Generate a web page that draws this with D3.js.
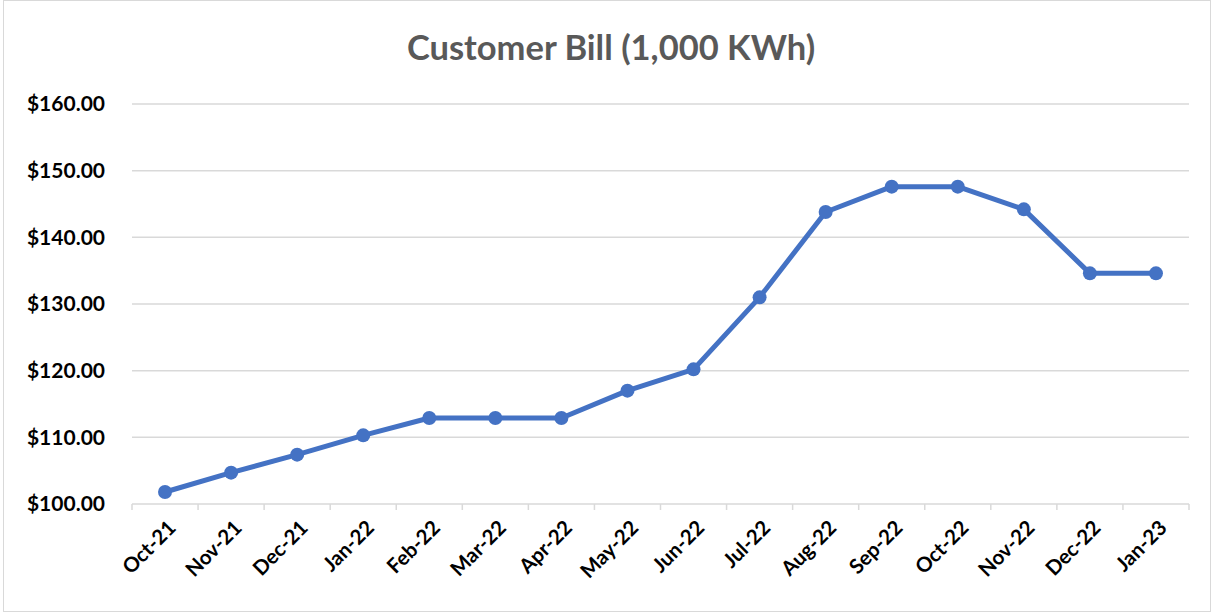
<!DOCTYPE html>
<html>
<head>
<meta charset="utf-8">
<script src="https://cdn.jsdelivr.net/npm/d3@7"></script>
<style>
  body { margin: 0; background: #fff; }
  svg, svg text { font-family: Lato, "Open Sans", sans-serif; }
</style>
</head>
<body>
<div id="chart"></div>
<script>
var months = ["Oct-21", "Nov-21", "Dec-21", "Jan-22", "Feb-22", "Mar-22", "Apr-22", "May-22",
              "Jun-22", "Jul-22", "Aug-22", "Sep-22", "Oct-22", "Nov-22", "Dec-22", "Jan-23"];
var bills = [101.8, 104.7, 107.4, 110.3, 112.9, 112.9, 112.9, 117.0,
             120.2, 131.0, 143.8, 147.6, 147.6, 144.2, 134.6, 134.6];
var yTicks = [100, 110, 120, 130, 140, 150, 160];

var width = 1214,
    height = 613;
var margin = {top: 104, right: 25, bottom: 109, left: 132};

var svg = d3.select("#chart")
    .append("svg")
    .attr("width", width)
    .attr("height", height);

// chart border
svg.append("rect")
    .attr("x", 3.5).attr("y", 0.5)
    .attr("width", width - 7).attr("height", height - 2)
    .attr("fill", "#fff")
    .attr("stroke", "#d9d9d9");

var x = d3.scaleBand()
    .domain(months)
    .range([margin.left, width - margin.right]);

var y = d3.scaleLinear()
    .domain([100, 160])
    .range([height - margin.bottom, margin.top]);

// gridlines
svg.append("g")
    .selectAll("line")
    .data(yTicks.slice(1))
    .enter()
    .append("line")
    .attr("x1", margin.left)
    .attr("x2", width - margin.right)
    .attr("y1", function (d) { return y(d); })
    .attr("y2", function (d) { return y(d); })
    .attr("stroke", "#d9d9d9")
    .attr("stroke-width", 1.5);

// y axis labels
var yAxis = d3.axisLeft(y)
    .tickValues(yTicks)
    .tickSize(0)
    .tickPadding(27)
    .tickFormat(function (d) { return "$" + d3.format(".2f")(d); });

svg.append("g")
    .attr("transform", "translate(" + margin.left + ",0)")
    .call(yAxis)
    .attr("font-family", null)
    .call(function (g) { g.select(".domain").remove(); })
    .selectAll("text")
    .attr("font-size", 21)
    .attr("font-weight", "bold")
    .attr("fill", "#000");

// x axis with tick marks between categories
var xg = svg.append("g")
    .attr("transform", "translate(0," + y(100) + ")");

xg.append("line")
    .attr("x1", margin.left)
    .attr("x2", width - margin.right)
    .attr("stroke", "#d9d9d9")
    .attr("stroke-width", 1.5);

var boundaries = months.map(function (m) { return x(m); });
boundaries.push(x(months[months.length - 1]) + x.bandwidth());

xg.selectAll(".tick-mark")
    .data(boundaries)
    .enter()
    .append("line")
    .attr("class", "tick-mark")
    .attr("x1", function (d) { return d; })
    .attr("x2", function (d) { return d; })
    .attr("y1", 0)
    .attr("y2", 6)
    .attr("stroke", "#d9d9d9")
    .attr("stroke-width", 1.5);

xg.selectAll(".x-label")
    .data(months)
    .enter()
    .append("text")
    .attr("class", "x-label")
    .attr("transform", function (d) {
        return "translate(" + (x(d) + x.bandwidth() / 2 + 7) + ",20) rotate(-45)";
    })
    .attr("text-anchor", "end")
    .attr("dy", "0.35em")
    .attr("font-size", 20.5)
    .attr("font-weight", "bold")
    .attr("fill", "#000")
    .text(function (d) { return d; });

// line
var line = d3.line()
    .x(function (d, i) { return x(months[i]) + x.bandwidth() / 2; })
    .y(function (d) { return y(d); });

svg.append("path")
    .datum(bills)
    .attr("d", line)
    .attr("fill", "none")
    .attr("stroke", "#4472c4")
    .attr("stroke-width", 5)
    .attr("stroke-linejoin", "round");

svg.append("g")
    .selectAll("circle")
    .data(bills)
    .enter()
    .append("circle")
    .attr("cx", function (d, i) { return x(months[i]) + x.bandwidth() / 2; })
    .attr("cy", function (d) { return y(d); })
    .attr("r", 7)
    .attr("fill", "#4472c4");

// title
svg.append("text")
    .attr("x", 611)
    .attr("y", 60)
    .attr("text-anchor", "middle")
    .attr("font-size", 34.5)
    .attr("font-weight", "bold")
    .attr("fill", "#595959")
    .text("Customer Bill (1,000 KWh)");
</script>
</body>
</html>
